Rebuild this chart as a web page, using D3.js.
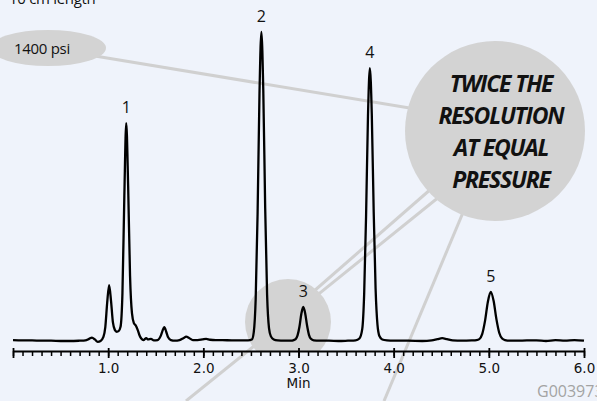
<!DOCTYPE html>
<html>
<head>
<meta charset="utf-8">
<script src="https://cdn.jsdelivr.net/npm/d3@7"></script>
<style>
  html, body { margin: 0; padding: 0; background: #eff3fb; }
  svg { display: block; }
</style>
</head>
<body>
<svg id="chart" width="597" height="401"></svg>
<script>
// Chromatogram trace: [retention time (min), detector signal (relative units)]
const trace = [
  [0.00,0.3],[0.10,0.2],[0.20,0.2],[0.30,0.1],[0.40,0.1],[0.50,0.0],[0.60,0.0],[0.70,0.1],
  [0.76,0.2],[0.80,0.7],[0.83,1.1],[0.86,0.5],[0.89,-0.3],[0.92,0.0],[0.95,1.3],[0.97,4.5],
  [0.99,12.5],[1.01,18.1],[1.03,13],[1.05,6],[1.07,3.6],[1.09,3.0],[1.11,3.2],[1.13,4.6],
  [1.15,15.5],[1.17,47],[1.19,70.5],[1.21,50],[1.23,21],[1.25,9],[1.27,5.8],[1.29,5.0],
  [1.31,3.6],[1.33,1.8],[1.35,0.7],[1.37,0.3],[1.40,0.9],[1.42,0.5],[1.45,0.7],[1.48,0.2],
  [1.52,0.3],[1.55,1.5],[1.57,3.2],[1.59,4.5],[1.61,3.0],[1.63,1.2],[1.66,0.3],[1.70,0.1],
  [1.75,0.3],[1.79,0.9],[1.82,1.4],[1.85,1.0],[1.89,0.3],[1.94,0.3],[1.99,0.5],[2.03,0.7],
  [2.07,0.4],[2.13,0.3],[2.20,0.3],[2.30,0.2],[2.40,0.2],[2.47,0.2],[2.51,0.5],[2.53,2.9],
  [2.55,13.5],[2.57,41],[2.59,80],[2.61,100],[2.63,81],[2.65,43],[2.67,15],[2.69,4.2],
  [2.71,1.5],[2.74,0.5],[2.78,0.2],[2.85,0.1],[2.92,0.1],[2.95,0.3],[2.97,0.6],[2.99,1.8],
  [3.01,4.6],[3.03,8.8],[3.05,11],[3.07,9],[3.09,5],[3.11,2],[3.13,0.7],[3.16,0.2],
  [3.22,0.1],[3.32,0.1],[3.42,0.0],[3.52,0.1],[3.60,0.2],[3.64,0.8],[3.67,3.9],[3.69,15.2],
  [3.71,40.4],[3.73,72.7],[3.75,88.3],[3.77,73.5],[3.79,42],[3.81,17],[3.83,5.2],[3.85,1.6],
  [3.88,0.5],[3.93,0.2],[4.00,0.1],[4.15,0.1],[4.30,0.0],[4.40,0.2],[4.46,0.6],[4.51,0.9],
  [4.56,0.6],[4.62,0.2],[4.72,0.1],[4.82,0.2],[4.87,0.3],[4.90,0.6],[4.93,2.2],[4.96,6.5],
  [4.99,12.7],[5.02,15.9],[5.05,13],[5.08,7],[5.11,2.6],[5.14,0.8],[5.17,0.3],[5.22,0.1],
  [5.30,0.1],[5.40,0.2],[5.50,0.2],[5.60,0.0],[5.70,0.3],[5.80,0.1],[5.90,0.3],[6.00,0.1]
];

// Numbered peaks and their apex retention times
const peakNames = ["1", "2", "3", "4", "5"];
const peakTimes = [1.19, 2.61, 3.05, 3.75, 5.02];

// Axis ticks
const majorTicks = [0, 1, 2, 3, 4, 5, 6];
const tickLabels = ["", "1.0", "2.0", "3.0", "4.0", "5.0", "6.0"];
const axisTitle = "Min";

// Annotations
const columnNote = "10 cm length";
const pressureNote = "1400 psi";
const calloutText = ["TWICE THE", "RESOLUTION", "AT EQUAL", "PRESSURE"];
const figureCode = "G003973";

const svg = d3.select("#chart");
const W = 597, H = 401;

const x = d3.scaleLinear().domain([0, 6]).range([13, 584]);
const y = d3.scaleLinear().domain([0, 100]).range([341, 32]);
const axisY = 351;

const grey = "#d3d3d3";
const lineGrey = "#d0d0d0";

// background
svg.append("rect").attr("width", W).attr("height", H).attr("fill", "#eff3fb");

// connector lines (sit beneath the callout shapes)
const connectors = svg.append("g")
  .attr("stroke", lineGrey).attr("stroke-width", 3).attr("fill", "none");
connectors.append("line").attr("x1", 95).attr("y1", 56).attr("x2", 470).attr("y2", 118);
connectors.append("line").attr("x1", 290).attr("y1", 312).attr("x2", 455).attr("y2", 168);
connectors.append("line").attr("x1", 186).attr("y1", 401).attr("x2", 460).attr("y2", 180);
connectors.append("line").attr("x1", 384).attr("y1", 401).attr("x2", 480).attr("y2", 172);

// pressure bubble
svg.append("ellipse").attr("cx", 48).attr("cy", 48).attr("rx", 58).attr("ry", 18).attr("fill", grey);
svg.append("text").attr("x", 14).attr("y", 54)
  .attr("font-family", "'Open Sans', sans-serif").attr("font-size", 15)
  .attr("letter-spacing", -0.3).attr("fill", "#111").text(pressureNote);

// column length note
svg.append("text").attr("x", 9).attr("y", 4)
  .attr("font-family", "'Open Sans', sans-serif").attr("font-size", 15)
  .attr("letter-spacing", -0.3).attr("fill", "#111").text(columnNote);

// magnifier around peak 3
svg.append("clipPath").attr("id", "aboveAxis")
  .append("rect").attr("x", 0).attr("y", 0).attr("width", W).attr("height", axisY);
svg.append("circle").attr("cx", 288).attr("cy", 322).attr("r", 43)
  .attr("fill", grey).attr("clip-path", "url(#aboveAxis)");

// large callout
svg.append("circle").attr("cx", 495).attr("cy", 131).attr("r", 90).attr("fill", grey);
const callout = svg.append("g")
  .attr("font-family", "'Open Sans', sans-serif").attr("font-weight", 700)
  .attr("font-style", "italic").attr("font-size", 23).attr("letter-spacing", -1.2)
  .attr("text-anchor", "middle").attr("fill", "#111");
const calloutBaselines = [92, 124, 156, 188];
calloutText.forEach((t, i) => {
  callout.append("text").attr("x", 501).attr("y", calloutBaselines[i]).text(t);
});

// chromatogram
const line = d3.line()
  .x(d => x(d[0]))
  .y(d => y(d[1]))
  .curve(d3.curveMonotoneX);
svg.append("path").datum(trace)
  .attr("d", line)
  .attr("fill", "none").attr("stroke", "#000").attr("stroke-width", 2.3)
  .attr("stroke-linejoin", "round");

// peak numbers above each apex
const signalAt = t => trace.find(d => Math.abs(d[0] - t) < 1e-9)[1];
svg.append("g")
  .attr("font-family", "'Open Sans', sans-serif").attr("font-size", 16)
  .attr("text-anchor", "middle").attr("fill", "#111")
  .selectAll("text").data(peakNames).join("text")
  .attr("x", (d, i) => x(peakTimes[i]))
  .attr("y", (d, i) => y(signalAt(peakTimes[i])) - 10)
  .text(d => d);

// time axis: minor ticks every 0.1 min
const minorTicks = d3.range(0, 60.5, 1).map(v => v / 10);
svg.append("g").attr("transform", `translate(0,${axisY})`)
  .call(d3.axisBottom(x).tickValues(minorTicks).tickSize(5).tickSizeOuter(0).tickFormat(""))
  .call(g => g.select(".domain").remove())
  .call(g => g.selectAll(".tick line").attr("stroke", "#000").attr("stroke-width", 1.5));

// major ticks with labels
const xAxis = svg.append("g").attr("transform", `translate(0,${axisY})`)
  .call(d3.axisBottom(x).tickValues(majorTicks).tickSize(7).tickSizeOuter(0)
    .tickPadding(5).tickFormat((d, i) => tickLabels[i]));
xAxis.select(".domain").attr("stroke", "#000").attr("stroke-width", 2);
xAxis.selectAll(".tick line").attr("y1", -3).attr("stroke", "#000").attr("stroke-width", 1.8);
xAxis.selectAll(".tick text")
  .attr("font-family", "'DejaVu Sans', sans-serif").attr("font-size", 13.5)
  .attr("fill", "#111");

svg.append("text").attr("x", x(3)).attr("y", 388)
  .attr("text-anchor", "middle")
  .attr("font-family", "'DejaVu Sans', sans-serif").attr("font-size", 13.5)
  .attr("fill", "#111").text(axisTitle);

// figure code
svg.append("text").attr("x", 537).attr("y", 397)
  .attr("font-family", "'Open Sans', sans-serif").attr("font-size", 16)
  .attr("fill", "#a3a3a3").text(figureCode);
</script>
</body>
</html>
